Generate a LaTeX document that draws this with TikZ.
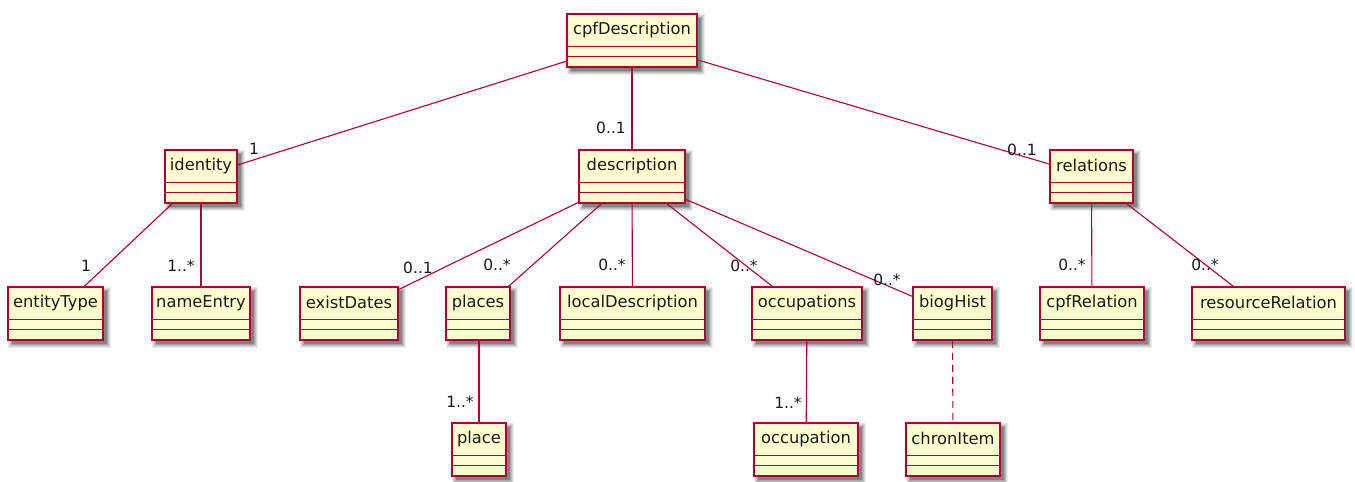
\documentclass[tikz,border=0pt]{standalone}
\usepackage{fontspec}
\setmainfont{DejaVu Sans}
\usetikzlibrary{calc}
\definecolor{umlborder}{HTML}{A80036}
\definecolor{umlfill}{HTML}{FEFECE}
\tikzset{
  clsbox/.style={draw=umlborder, fill=umlfill, line width=1.5pt, rectangle, inner sep=0pt},
  clstext/.style={font=\fontsize{16.3}{18}\selectfont, text=black!90, inner sep=0pt},
  umlline/.style={draw=umlborder, line width=1.2pt},
  assoc/.style={draw=umlborder, line width=1.1pt},
  dep/.style={draw=umlborder, line width=1.1pt, dash pattern=on 7pt off 5pt},
  mult/.style={font=\fontsize{15.5}{17}\selectfont, text=black!90, inner sep=0pt},
}
\newcommand\umlclass[5]{%
  \foreach \d/\o in {4/0.07,3/0.09,2/0.11,1/0.14,0/0.2}{
    \fill[black, opacity=\o] (#2-#4/2+4-\d,#3-26.5+4-\d) rectangle (#2+#4/2+4+\d,#3+26.5+4+\d);
  }
  \node[clsbox, minimum width=#4pt, minimum height=53pt] (#1) at (#2,#3) {};
  \node[clstext] (#1-t) at ([yshift=-16.5pt]#1.north) {#5};
  \draw[umlline] ([yshift=-33pt]#1.north west) -- ([yshift=-33pt]#1.north east);
  \draw[umlline] ([yshift=-43pt]#1.north west) -- ([yshift=-43pt]#1.north east);
}
\begin{document}
\begin{tikzpicture}[x=1pt,y=-1pt]
\useasboundingbox (0,0) rectangle (1355,482);
% classes
\umlclass{cpf}{632}{40.5}{130}{cpfDescription}
\umlclass{identity}{201}{176.5}{72}{identity}
\umlclass{description}{632}{176.5}{106}{description}
\umlclass{relations}{1091.5}{176.5}{83}{relations}
\umlclass{entityType}{55.5}{313.5}{95}{entityType}
\umlclass{nameEntry}{201}{313.5}{98}{nameEntry}
\umlclass{existDates}{349}{313.5}{98}{existDates}
\umlclass{places}{478}{313.5}{64}{places}
\umlclass{localDescription}{632.5}{313.5}{145}{localDescription}
\umlclass{occupations}{807}{313.5}{110}{occupations}
\umlclass{biogHist}{952.5}{313.5}{79}{biogHist}
\umlclass{cpfRelation}{1092}{313.5}{104}{cpfRelation}
\umlclass{resourceRelation}{1268.5}{313.5}{153}{resourceRelation}
\umlclass{place}{479}{449.5}{54}{place}
\umlclass{occupation}{806}{449.5}{104}{occupation}
\umlclass{chronItem}{953}{449.5}{94}{chronItem}
% connectors
\draw[assoc] (cpf) -- (identity);
\draw[assoc] (cpf) -- (description);
\draw[assoc] (cpf) -- (relations);
\draw[assoc] (identity) -- (entityType);
\draw[assoc] (identity.south -| nameEntry) -- (nameEntry);
\draw[assoc] (description) -- (existDates);
\draw[assoc] (description) -- (places);
\draw[assoc] (description) -- (localDescription);
\draw[assoc] (description) -- (occupations);
\draw[assoc] (description) -- (biogHist);
\draw[assoc] (relations) -- (cpfRelation);
\draw[assoc] (relations) -- (resourceRelation);
\draw[assoc] (places.south -| place) -- (place);
\draw[assoc] (occupations) -- (occupation);
\draw[dep] (biogHist) -- (chronItem);
% multiplicities
\node[mult] (m1) at (254,149) {1};
\node[mult] (m2) at (611,128) {0..1};
\node[mult] (m3) at (1022,150) {0..1};
\node[mult] (m4) at (86,266) {1};
\node[mult] (m5) at (181,266) {1..*};
\node[mult] (m6) at (418,268) {0..1};
\node[mult] (m7) at (497,265) {0..*};
\node[mult] (m8) at (612,265) {0..*};
\node[mult] (m9) at (744,266) {0..*};
\node[mult] (m10) at (887,280) {0..*};
\node[mult] (m11) at (1072,265) {0..*};
\node[mult] (m12) at (1205,265) {0..*};
\node[mult] (m13) at (460,402) {1..*};
\node[mult] (m14) at (788,403) {1..*};
\end{tikzpicture}
\end{document}
